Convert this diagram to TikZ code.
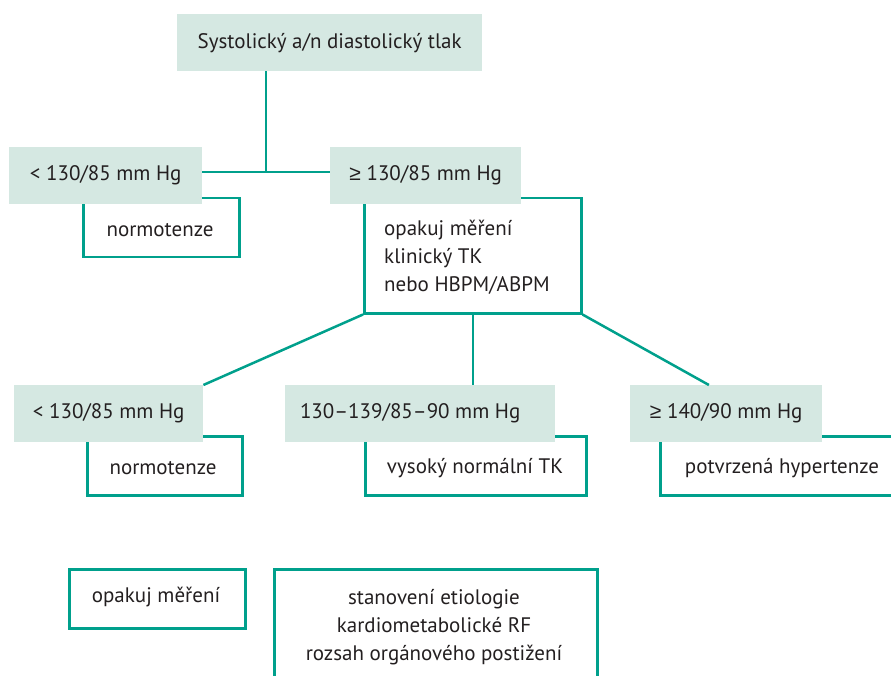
\documentclass[tikz,border=0pt]{standalone}
\usepackage{fontspec}
\setmainfont{PT Sans}
\newfontfamily\symfont{Liberation Sans}
\usetikzlibrary{calc}
\definecolor{tealline}{RGB}{0,160,140}
\definecolor{mint}{RGB}{213,232,226}
\definecolor{ink}{RGB}{35,31,32}
\newcommand{\gesym}{{\symfont ≥}}
\begin{document}
\begin{tikzpicture}[x=1pt,y=-1pt,
  every node/.style={font=\fontsize{21}{28}\selectfont, text=ink, inner sep=0pt},
  fillbox/.style={fill=mint, anchor=north west, minimum height=57pt},
  outbox/.style={draw=tealline, line width=2.5pt, anchor=north west},
  conn/.style={draw=tealline, line width=2.5pt}]
\useasboundingbox (0,0) rectangle (891,676);
\clip (0,0) rectangle (891,676);
% outline boxes (behind)
\node[outbox, minimum width=156pt, minimum height=59pt] (oL1) at (82,197) {};
\node[outbox, minimum width=217pt, minimum height=115pt] (oR1) at (363,197) {};
\node[outbox, minimum width=155pt, minimum height=59pt] (oB1) at (86,435) {};
\node[outbox, minimum width=221pt, minimum height=59pt] (oB2) at (364,435) {};
\node[outbox, minimum width=260pt, minimum height=59pt] (oB3) at (659,435) {};
\node[outbox, minimum width=176pt, minimum height=59pt] (E1) at (68,568) {};
\node[outbox, minimum width=323pt, minimum height=140pt] (E2) at (273,568) {};
% filled boxes
\node[fillbox, minimum width=305pt] (top) at (177,14) {Systolický a/n diastolický tlak};
\node[fillbox, minimum width=193pt] (L1) at (9,147) {< 130/85 mm Hg};
\node[fillbox, minimum width=191pt] (R1) at (330,147) {\gesym\ 130/85 mm Hg};
\node[fillbox, minimum width=189pt] (B1) at (14,385) {< 130/85 mm Hg};
\node[fillbox, minimum width=270pt] (B2) at (285,385) {\hspace*{-20pt}130–139/85–90 mm Hg};
\node[fillbox, minimum width=192pt] (B3) at (630,385) {\gesym\ 140/90 mm Hg};
% texts of outline boxes
\node (tL1) at (160,230) {normotenze};
\node[anchor=west, align=left] (tR1) at (384,257) {opakuj měření\\klinický TK\\nebo HBPM/ABPM};
\node (tB1) at (163,468) {normotenze};
\node (tB2) at (475,468) {vysoký normální TK};
\node (tB3) at (782,468) {potvrzená hypertenze};
\node (tE1) at (156,597) {opakuj měření};
\node[align=center] (tE2) at (434,627) {stanovení etiologie\\kardiometabolické RF\\rozsah orgánového postižení};
% connectors
\coordinate (j) at ($([yshift=3.5pt]L1.east)!0.5!([yshift=3.5pt]R1.west)$);
\draw[conn] ([yshift=3.5pt]L1.east) -- ([yshift=3.5pt]R1.west);
\draw[conn] (top.south -| j) -- (j);
\draw[conn] (oR1.south west) -- (B1.north east);
\draw[conn] (oR1.south) -- (oR1.south |- B2.north);
\draw[conn] (oR1.south east) -- ($(B3.north west)!0.41!(B3.north east)$);
\end{tikzpicture}
\end{document}
